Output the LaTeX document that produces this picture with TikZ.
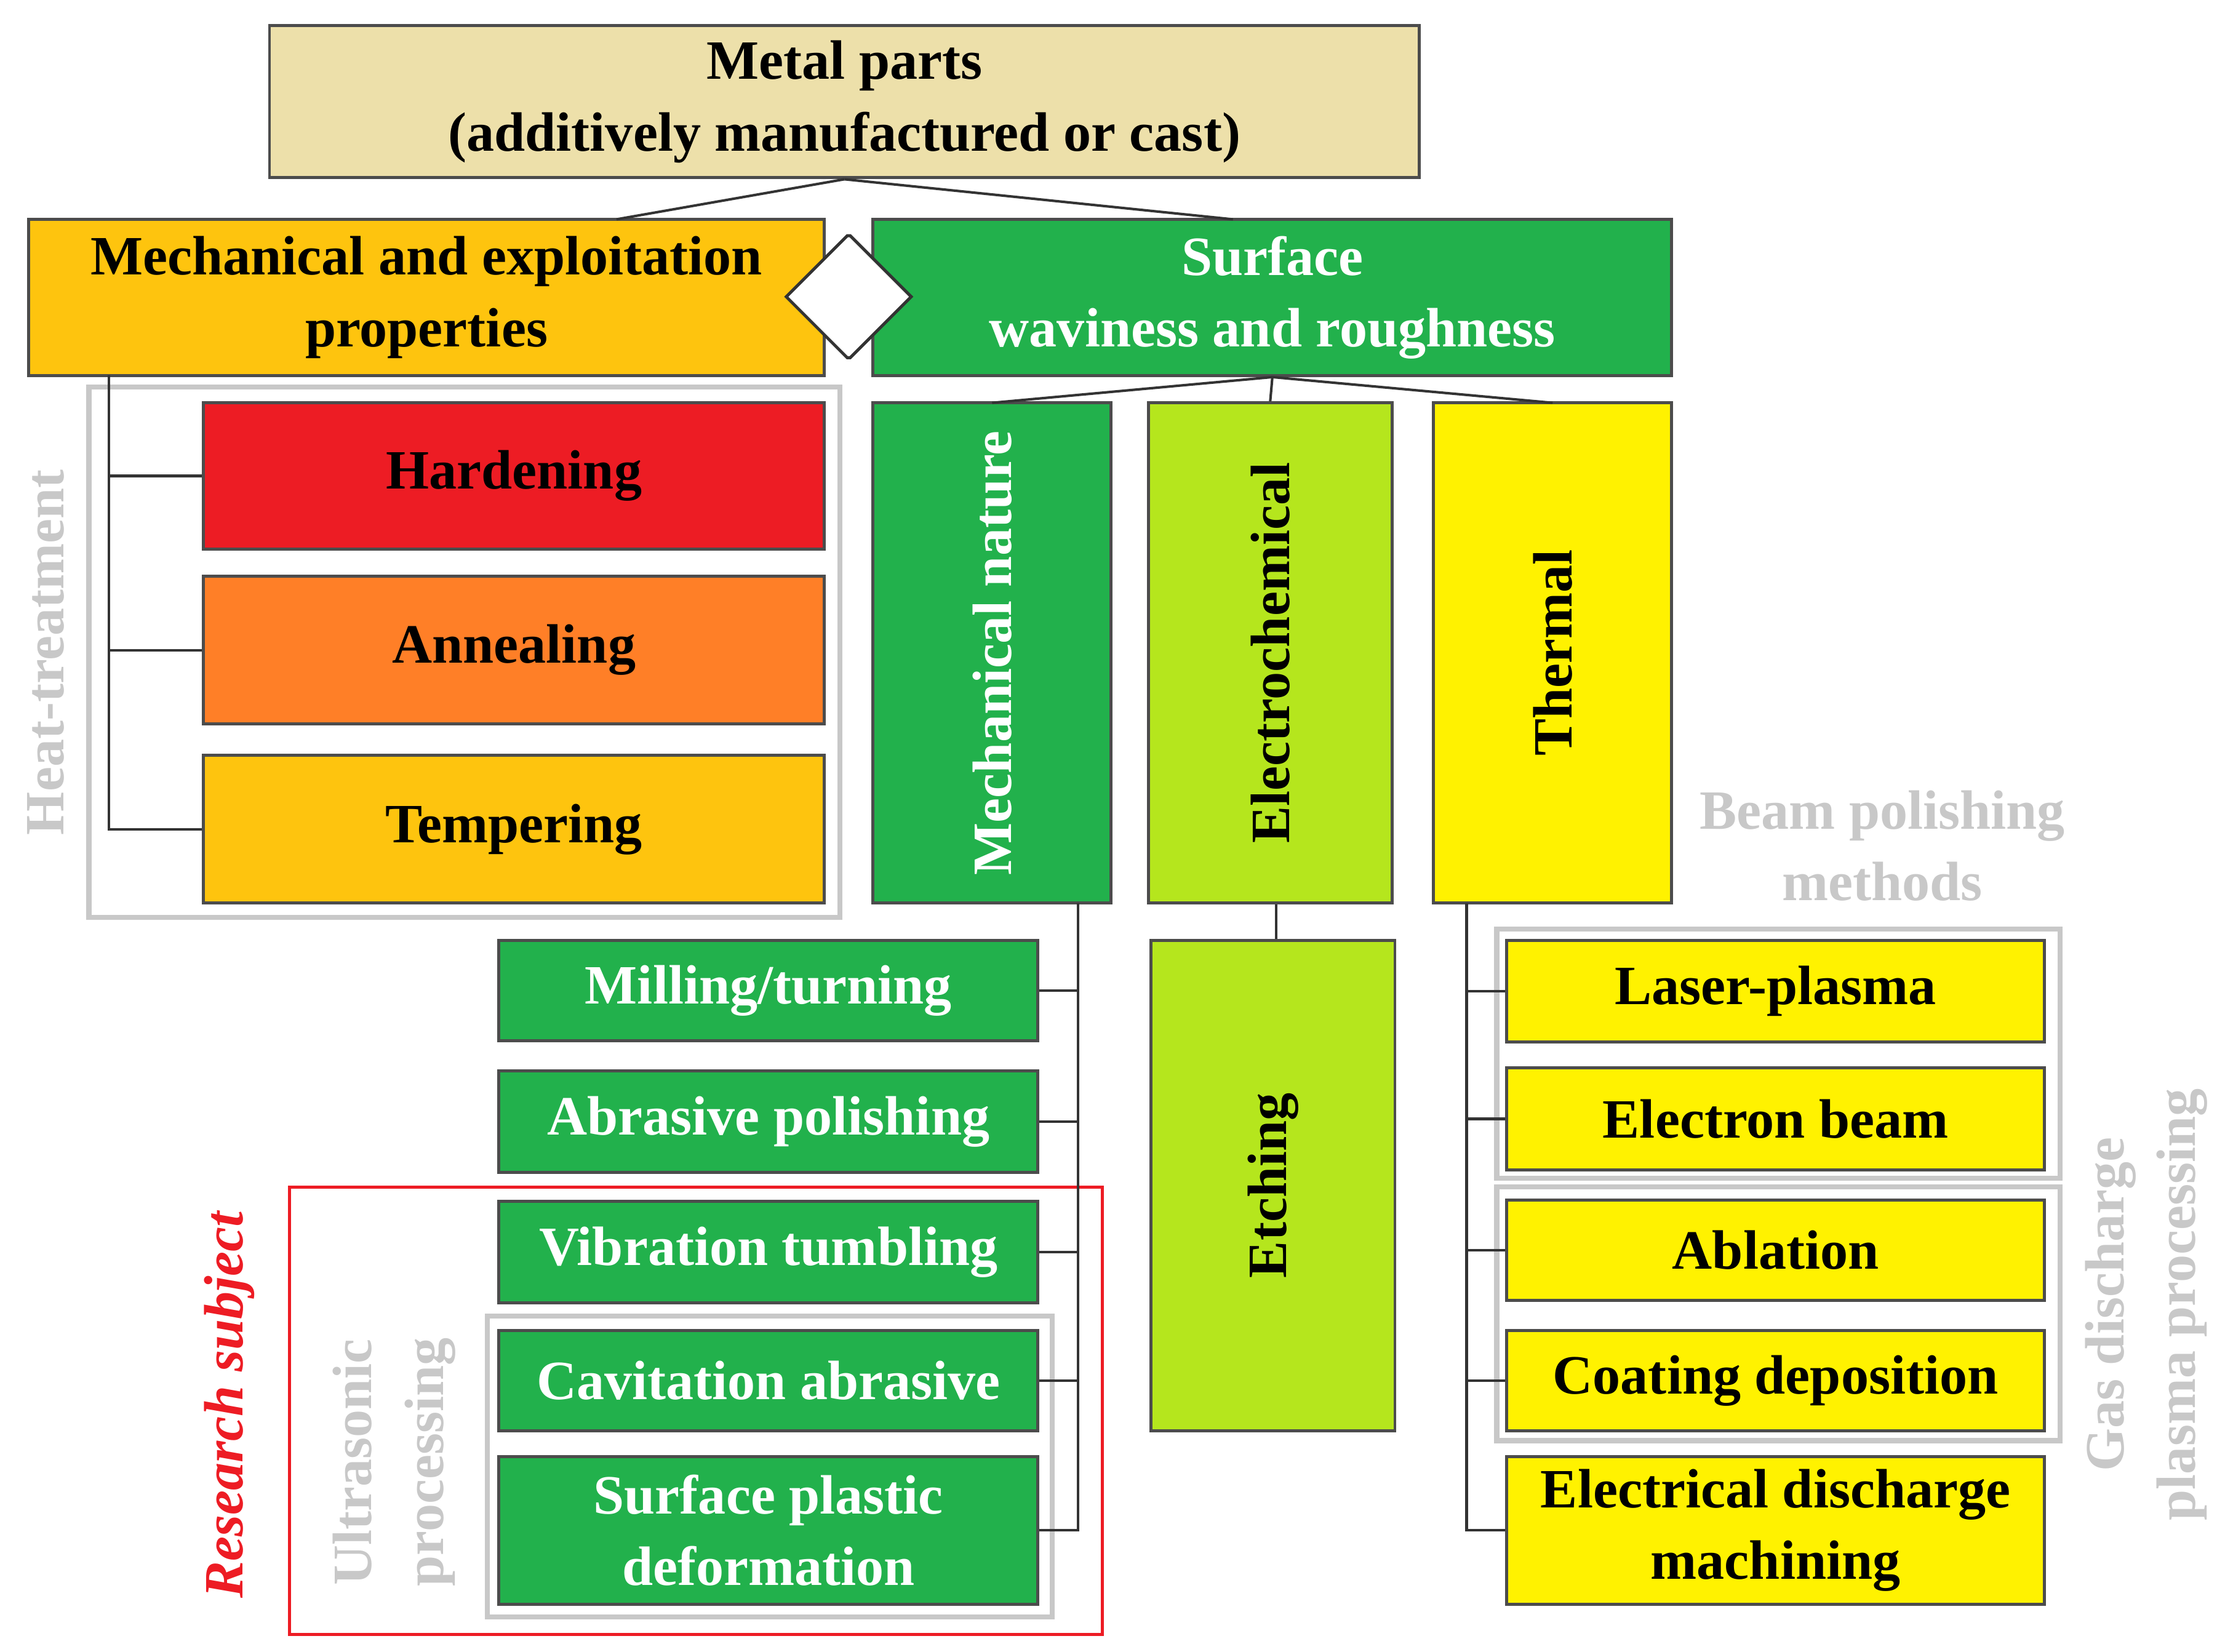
\documentclass[tikz,border=0pt]{standalone}
\usepackage{fontspec}
\setmainfont{Liberation Serif}
\usetikzlibrary{shapes.arrows}
\definecolor{tan}{RGB}{237,224,170}
\definecolor{amber}{RGB}{254,196,14}
\definecolor{grn}{RGB}{34,177,76}
\definecolor{rd}{RGB}{237,28,36}
\definecolor{org}{RGB}{255,127,39}
\definecolor{lime}{RGB}{181,230,29}
\definecolor{yel}{RGB}{255,242,0}
\definecolor{gry}{RGB}{200,200,200}
\newcommand\mybox[7]{\node[box,#6,minimum width={(#4-#2)*0.01cm},minimum height={(#5-#3)*0.01cm}] (#1) at ({(#2+#4)/2},{(#3+#5)/2}) {#7};}
\begin{document}
\begin{tikzpicture}[x=0.01cm,y=-0.01cm,
  box/.style={draw=black!70,line width=0.6pt,inner sep=0pt,align=center,font=\fontsize{11}{14.2}\selectfont\bfseries},
  ln/.style={draw=black!80,line width=0.5pt},
  frame/.style={draw=gry,line width=1pt},
  gtxt/.style={text=gry,font=\fontsize{11}{14.2}\selectfont\bfseries,align=center},
  rtxt/.style={font=\fontsize{11}{14.2}\selectfont\bfseries,rotate=90}]
\useasboundingbox (0,0) rectangle (1552,1152);
% frames
\draw[frame] (62,270) rectangle (586,640);
\draw[frame] (340,918) rectangle (734,1128);
\draw[draw=rd,line width=0.6pt] (202,828) rectangle (769,1140);
\draw[frame] (1044,648) rectangle (1437,822);
\draw[frame] (1044,828) rectangle (1437,1005);
% boxes
\mybox{metal}{188}{18}{990}{124}{fill=tan}{Metal parts\\(additively manufactured or cast)}
\mybox{mech}{20}{153}{575}{262}{fill=amber}{Mechanical and exploitation\\properties}
\mybox{surf}{609}{153}{1166}{262}{fill=grn,text=white}{Surface\\waviness and roughness}
\mybox{hard}{142}{281}{575}{383}{fill=rd}{Hardening}
\mybox{ann}{142}{402}{575}{505}{fill=org}{Annealing}
\mybox{temp}{142}{527}{575}{630}{fill=amber}{Tempering}
\mybox{mnat}{609}{281}{775}{630}{fill=grn}{}
\mybox{echem}{801}{281}{971}{630}{fill=lime}{}
\mybox{therm}{1000}{281}{1166}{630}{fill=yel}{}
\mybox{etch}{803}{656}{973}{998}{fill=lime}{}
\node[rtxt,text=white] at (mnat) {Mechanical nature};
\node[rtxt] at (echem) {Electrochemical};
\node[rtxt] at (therm) {Thermal};
\node[rtxt] at (etch) {Etching};
\mybox{mill}{348}{656}{724}{726}{fill=grn,text=white}{Milling/turning}
\mybox{abr}{348}{747}{724}{818}{fill=grn,text=white}{Abrasive polishing}
\mybox{vib}{348}{838}{724}{909}{fill=grn,text=white}{Vibration tumbling}
\mybox{cav}{348}{928}{724}{998}{fill=grn,text=white}{Cavitation abrasive}
\mybox{spd}{348}{1016}{724}{1119}{fill=grn,text=white}{Surface plastic\\deformation}
\mybox{lp}{1051}{656}{1426}{727}{fill=yel}{Laser-plasma}
\mybox{eb}{1051}{745}{1426}{816}{fill=yel}{Electron beam}
\mybox{abl}{1051}{837}{1426}{907}{fill=yel}{Ablation}
\mybox{coat}{1051}{928}{1426}{998}{fill=yel}{Coating deposition}
\mybox{edm}{1051}{1016}{1426}{1119}{fill=yel}{Electrical discharge\\machining}
% double arrow
\node[double arrow,draw=black!80,fill=white,line width=0.6pt,minimum height=0.32cm,minimum width=0.85cm,double arrow head extend=0pt,inner sep=0pt,shape border uses incircle=false] (dar) at (592,207) {};
% connectors
\coordinate (m1) at (430,153); \coordinate (m2) at (860,153);
\draw[ln] (metal.south) -- (m1); \draw[ln] (metal.south) -- (m2);
\coordinate (s1) at (692,281); \coordinate (s3) at (1083,281);
\draw[ln] (surf.south) -- (s1); \draw[ln] (surf.south) -- (echem.north); \draw[ln] (surf.south) -- (s3);
\coordinate (h0) at (76,262);
\draw[ln] (h0) |- (temp.west); \draw[ln] (h0 |- hard.west) -- (hard.west); \draw[ln] (h0 |- ann.west) -- (ann.west);
\coordinate (t1) at (752,630);
\draw[ln] (t1) |- (spd.east);
\foreach \n in {mill,abr,vib,cav} \draw[ln] (t1 |- \n.east) -- (\n.east);
\draw[ln] (echem.south -| 890,0) -- (etch.north -| 890,0);
\coordinate (t2) at (1023,630);
\draw[ln] (t2) |- (edm.west);
\foreach \n in {lp,eb,abl,coat} \draw[ln] (t2 |- \n.west) -- (\n.west);
% gray labels
\node[gtxt,rotate=90] (ht) at (32,455) {Heat-treatment};
\node[gtxt,rotate=90] (us) at (275,1020) {Ultrasonic\\processing};
\node[gtxt] (bp) at (1313,590) {Beam polishing\\methods};
\node[gtxt,rotate=90] (gd) at (1497,910) {Gas discharge\\plasma processing};
\node[rotate=90,text=rd,font=\fontsize{11}{14.2}\selectfont\bfseries\itshape] (rs) at (160,980) {Research subject};
\end{tikzpicture}
\end{document}
